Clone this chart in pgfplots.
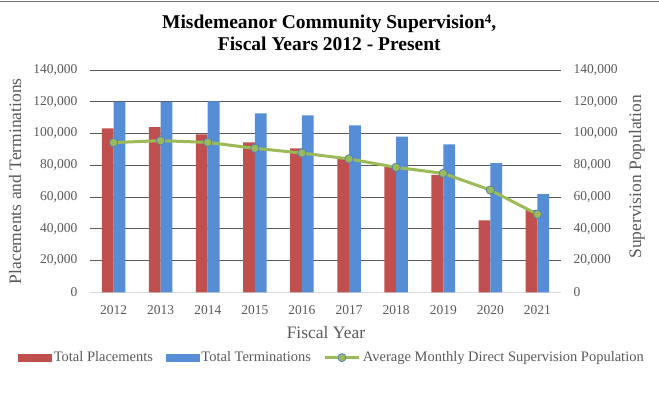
\documentclass[border=0pt]{standalone}
\usepackage{pgfplots}
\usepackage{pgfplotstable}
\pgfplotsset{compat=1.18}
\usepackage{fontspec}
\setmainfont{Liberation Serif}
\definecolor{cRed}{HTML}{C0504D}
\definecolor{cBlue}{HTML}{558ED5}
\definecolor{cGreen}{HTML}{9BBB59}
\definecolor{cMarkEdge}{HTML}{4F81BD}
\definecolor{cText}{HTML}{595959}
\definecolor{cGrid}{HTML}{5A5A5A}
\definecolor{cBase}{HTML}{D9D9D9}
\pgfplotstableread{
x p t a
0 103300 119900 94300
1 104100 119900 95500
2 99500 120300 94400
3 94400 112700 90700
4 90700 111400 87700
5 84500 105200 84000
6 79100 98000 78700
7 73900 93200 74900
8 45300 81400 64400
9 51800 61900 49100
}\data
\begin{document}
\begin{tikzpicture}
\useasboundingbox (-90bp,-107.7bp) rectangle (569bp,292.3bp);
\draw[black!55, line width=1.5bp] (-90bp,290.6bp) -- (569bp,290.6bp);
\pgfplotsset{common/.style={
  scale only axis, width=471bp, height=222.3bp, at={(0bp,0bp)}, anchor=south west,
  xmin=-0.5, xmax=9.5, ymin=0, ymax=140000,
  ytick={0,20000,40000,60000,80000,100000,120000,140000},
  scaled y ticks=false,
  yticklabel style={/pgf/number format/.cd, fixed, 1000 sep={,}, assume math mode=true},
  tick label style={font=\fontsize{13.5bp}{16bp}\selectfont, text=cText, inner sep=0pt},
  major tick length=0pt,
  yticklabel shift=12.5bp,
  xticklabel shift=13bp,
  label style={font=\fontsize{17.5bp}{20bp}\selectfont, text=cText},
}}
\begin{axis}[common,
  axis x line*=bottom, axis y line*=left,
  x axis line style={draw=cBase, line width=1bp, -},
  y axis line style={draw=none},
  ymajorgrids, grid style={cGrid, line width=0.8bp},
  xtick={0,...,9},
  xticklabels={2012,2013,2014,2015,2016,2017,2018,2019,2020,2021},
  ybar=0pt, bar width=0.25,
  ylabel={Placements and Terminations},
  ylabel style={at={(axis description cs:-0.159,0.5)}, anchor=center},
  xlabel={Fiscal Year},
  xlabel style={at={(axis description cs:0.501,-0.183)}, anchor=center},
  title={Misdemeanor Community Supervision{\fontsize{13bp}{13bp}\selectfont\raisebox{5bp}{4}},\\Fiscal Years 2012 - Present},
  title style={at={(axis description cs:0.508,1.139)}, anchor=center, align=center,
    font=\bfseries\fontsize{19.5bp}{22bp}\selectfont},
]
\addplot[fill=cRed, draw=none] table[x=x, y=p] {\data};
\addplot[fill=cBlue, draw=none] table[x=x, y=t] {\data};
\end{axis}
\begin{axis}[common,
  axis x line=none, axis y line*=right,
  y axis line style={draw=none},
  xtick=\empty,
  ylabel={Supervision Population},
  ylabel style={at={(axis description cs:1.161,0.52)}, anchor=center, rotate=0},
  legend style={at={(axis description cs:0.514,-0.294)}, anchor=center, draw=none, fill=none,
    font=\fontsize{14.5bp}{16bp}\selectfont, text=cText, legend columns=-1,
    nodes={inner xsep=2.5bp, inner ysep=1bp},
    /tikz/every even column/.append style={column sep=10bp}},
  legend cell align=left,
]
\addlegendimage{legend image code/.code={\fill[cRed] (0bp,-3.5bp) rectangle (33bp,3.5bp);}}
\addlegendentry{Total Placements}
\addlegendimage{legend image code/.code={\fill[cBlue] (0bp,-3.5bp) rectangle (33bp,3.5bp);}}
\addlegendentry{Total Terminations}
\addplot[cGreen, line width=3bp, mark=*, mark size=4.2bp,
  mark options={fill=cGreen, draw=cMarkEdge, line width=0.8bp},
  legend image code/.code={\draw[cGreen, line width=3bp] (0bp,0bp) -- (34bp,0bp);
    \draw[fill=cGreen, draw=cMarkEdge, line width=0.8bp] (17bp,0bp) circle (4bp);}
] table[x=x, y=a] {\data};
\addlegendentry{Average Monthly Direct Supervision Population}
\end{axis}
\end{tikzpicture}
\end{document}
